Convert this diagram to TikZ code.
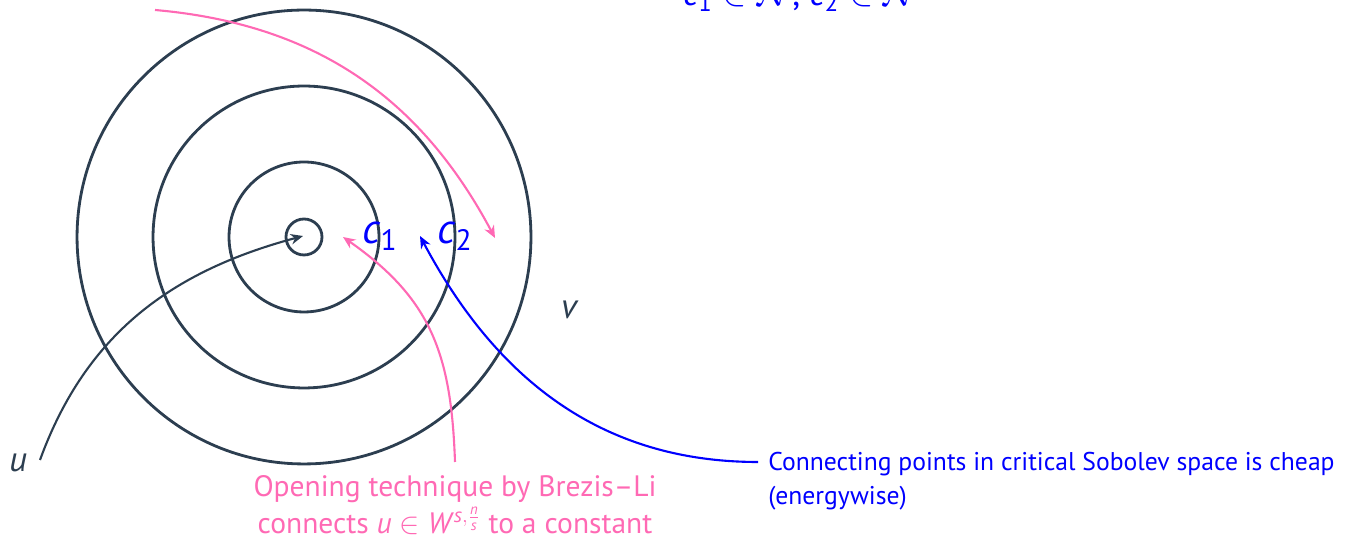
\documentclass[tikz,border=0pt]{standalone}
\usepackage{amsmath}
\usepackage{fontspec}
\setmainfont{PT Sans}
\usetikzlibrary{arrows.meta}
\definecolor{slate}{HTML}{2C3E50}
\definecolor{pinkc}{HTML}{FF69B4}
\definecolor{bluec}{HTML}{0000FF}
\tikzset{
  ring/.style={draw=slate, line width=1.6pt, circle, inner sep=0pt},
  conn/.style={line width=1.2pt, -{Stealth[length=7pt,width=6pt]}},
  lbl/.style={inner sep=0pt, font=\fontsize{14.6}{19.3}\selectfont},
  biglbl/.style={inner sep=0pt, text=bluec, font=\fontsize{24}{28}\selectfont},
}
\begin{document}
\begin{tikzpicture}[x=0.02cm,y=0.02cm]
\useasboundingbox (0,0) rectangle (1348,543);
\node[ring, minimum size=0.72cm] (o0) at (304,306) {};
\node[ring, minimum size=3.0cm] (o1) at (304,306) {};
\node[ring, minimum size=6.04cm] (o2) at (304,306) {};
\node[ring, minimum size=9.08cm] (o3) at (304,306) {};
\coordinate (ctr) at (303,307);
\node[biglbl] (c1) at (380,307) {\textit{c}$_{\text{1}}$};
\node[biglbl] (c2) at (455,307) {\textit{c}$_{\text{2}}$};
\node[lbl, text=slate, font=\fontsize{20}{24}\selectfont] (u) at (18,80) {\textit{u}};
\node[lbl, text=slate, font=\fontsize{20}{24}\selectfont] (v) at (570,233) {\textit{v}};
\node[biglbl, anchor=base, font=\fontsize{20}{24}\selectfont] (top) at (801,537) {\textit{c}$_{\text{1}}\in\mathcal{N}$, \textit{c}$_{\text{2}}\in\mathcal{N}$};
\coordinate (us) at (40,83);
\coordinate (ps) at (155,533);
\coordinate (pe) at (495,305);
\coordinate (qe) at (343,306);
\coordinate (be) at (420,307);
\node[lbl, text=pinkc, anchor=north, align=center, inner ysep=7.5pt,
  font=\fontsize{16.8}{21.2}\selectfont] (pt) at (455,81)
  {Opening technique by Brezis–Li\\connects \textit{u} $\in$ \textit{W}$^{\textit{s},\frac{\textit{n}}{\textit{s}}}$ to a constant};
\node[lbl, text=bluec, anchor=north west, align=left] (bt) at (768,91)
  {Connecting points in critical Sobolev space is cheap\\(energywise)};
\coordinate (bs) at (758,81);
\draw[conn, slate] (us) to[out=70, in=195] (ctr);
\draw[conn, pinkc] (ps) to[out=-5, in=118] (pe);
\draw[conn, pinkc] (pt.north) to[out=92, in=-35, looseness=1.1] (qe);
\draw[conn, bluec] (bs) to[out=180, in=-62] (be);
\end{tikzpicture}
\end{document}
